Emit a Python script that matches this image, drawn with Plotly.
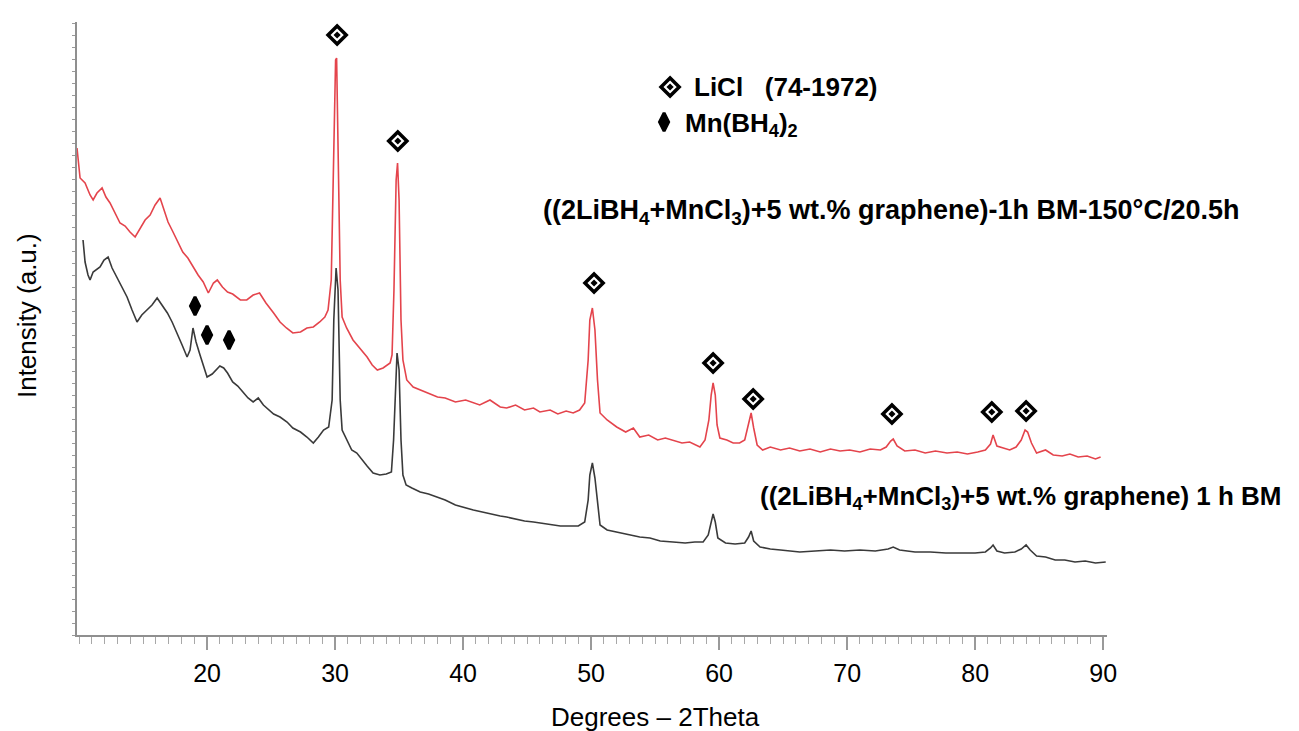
import plotly.graph_objects as go

# ---------------- data ----------------
# sample heat-treated 150 C / 20.5 h (red)
red_theta = [9.84, 10.08, 10.47, 10.86, 11.1, 11.4, 11.8, 12.1, 12.42, 12.8, 13.2, 13.6, 13.98, 14.38,
             14.77, 15.16, 15.55, 15.94, 16.33, 16.64, 16.95, 17.34, 17.73, 18.1, 18.5, 18.9, 19.3, 19.7,
             20.1, 20.5, 20.8, 21.2, 21.6, 22.0, 22.6, 23.1, 23.6, 24.1, 24.6, 25.2, 25.7, 26.2, 26.7,
             27.3, 27.8, 28.3, 28.8, 29.2, 29.45, 29.7, 29.85, 30.04, 30.12, 30.23, 30.4, 30.55, 30.9,
             31.4, 31.95, 32.5, 32.9, 33.3, 33.75, 34.3, 34.45, 34.6, 34.77, 34.88, 35.0, 35.15, 35.3,
             35.6, 36.1, 36.65, 37.3, 38.0, 38.6, 39.4, 40.2, 40.8, 41.3, 42.1, 42.9, 43.4, 44.1, 44.8,
             45.5, 46.0, 46.8, 47.4, 48.05, 48.6, 49.1, 49.5, 49.77, 49.9, 50.1, 50.3, 50.5, 50.7, 51.25,
             52.0, 52.7, 53.3, 53.8, 54.5, 55.2, 55.8, 56.4, 57.1, 57.7, 58.5, 58.9, 59.2, 59.38, 59.53,
             59.7, 59.84, 60.06, 60.6, 61.1, 61.6, 62.0, 62.27, 62.5, 62.7, 62.97, 63.4, 64.0, 64.8, 65.5,
             66.3, 67.1, 67.9, 68.7, 69.45, 70.2, 71.0, 71.8, 72.6, 73.05, 73.4, 73.6, 73.9, 74.5, 75.3,
             76.1, 76.9, 77.8, 78.6, 79.4, 80.2, 80.8, 81.2, 81.4, 81.7, 82.2, 82.7, 83.2, 83.6, 83.9,
             84.1, 84.4, 84.8, 85.5, 86.1, 86.8, 87.4, 88.05, 88.75, 89.4, 89.8]
red_intensity = [487, 457, 452, 440, 435, 442, 447, 438, 432, 423, 412, 409, 403, 398,
                 407, 415, 420, 430, 437, 425, 413, 403, 392, 383, 377, 368, 360, 353,
                 342, 352, 355, 348, 343, 341, 335, 335, 340, 342, 332, 322, 313, 307, 302,
                 303, 307, 308, 313, 318, 325, 355, 455, 575, 577, 485, 355, 318, 307,
                 295, 287, 278, 270, 265, 267, 272, 280, 345, 455, 472, 435, 315, 275,
                 255, 248, 245, 242, 238, 237, 233, 235, 232, 230, 235, 228, 227, 230, 225,
                 227, 223, 225, 221, 224, 222, 225, 232, 275, 315, 327, 305, 255, 222, 215,
                 208, 203, 207, 198, 200, 195, 197, 195, 192, 193, 188, 195, 215, 240, 252,
                 240, 210, 197, 195, 192, 192, 195, 210, 222, 207, 190, 185, 188, 185, 187,
                 184, 186, 183, 186, 184, 185, 183, 186, 185, 188, 194, 196, 189, 184, 185,
                 182, 184, 182, 183, 181, 183, 185, 191, 200, 189, 187, 185, 188, 195, 205,
                 203, 192, 182, 185, 180, 179, 181, 178, 179, 176, 178]

# sample as milled, 1 h BM (black)
blk_theta = [10.31, 10.47, 10.7, 10.86, 11.1, 11.33, 11.64, 11.95, 12.27, 12.58, 12.9, 13.2, 13.5,
             13.75, 14.14, 14.53, 14.9, 15.3, 15.7, 16.1, 16.5, 16.9, 17.27, 17.66, 18.05, 18.44,
             18.67, 18.9, 19.14, 19.45, 19.77, 20.0, 20.4, 20.7, 21.0, 21.3, 21.6, 22.0, 22.4, 22.8,
             23.2, 23.6, 24.0, 24.4, 24.8, 25.2, 25.7, 26.25, 26.7, 27.3, 27.8, 28.3, 28.7, 29.1,
             29.5, 29.77, 29.9, 30.08, 30.23, 30.4, 30.55, 30.9, 31.3, 31.7, 32.1, 32.5, 32.97, 33.5,
             34.0, 34.4, 34.57, 34.73, 34.84, 35.0, 35.15, 35.3, 35.55, 36.0, 36.65, 37.3, 38.0, 38.6,
             39.4, 40.2, 40.8, 41.5, 42.1, 42.9, 43.4, 44.1, 44.8, 45.5, 46.0, 46.8, 47.6, 48.4, 49.0,
             49.5, 49.77, 49.9, 50.1, 50.3, 50.5, 50.7, 51.25, 52.0, 52.8, 53.8, 54.6, 55.4, 56.4,
             57.35, 58.1, 58.75, 59.15, 59.38, 59.53, 59.7, 59.9, 60.5, 61.25, 62.0, 62.3, 62.5, 62.7,
             63.2, 64.0, 64.8, 65.5, 66.3, 67.5, 68.7, 69.8, 71.0, 72.2, 73.2, 73.6, 74.1, 75.3, 76.5,
             77.7, 78.8, 80.0, 80.8, 81.2, 81.4, 81.7, 82.3, 83.1, 83.6, 83.98, 84.3, 84.8, 85.5,
             86.25, 87.0, 87.8, 88.6, 89.4, 90.2]
blk_intensity = [395, 373, 360, 355, 363, 365, 368, 375, 378, 367, 359, 353, 345,
                 338, 325, 313, 320, 325, 330, 337, 330, 322, 313, 302, 290, 278,
                 285, 307, 293, 280, 267, 258, 261, 265, 269, 267, 262, 253, 249, 243,
                 237, 233, 237, 230, 225, 221, 218, 213, 207, 203, 198, 192, 198, 205,
                 208, 235, 315, 367, 345, 235, 205, 195, 185, 182, 175, 169, 162, 160,
                 161, 163, 195, 255, 282, 265, 195, 160, 150, 147, 143, 141, 138, 135,
                 130, 127, 125, 123, 121, 119, 118, 116, 114, 113, 112, 111, 109, 109, 109,
                 113, 135, 160, 172, 157, 130, 110, 105, 103, 101, 98, 97, 94, 93,
                 92, 93, 93, 100, 115, 121, 113, 97, 92, 91, 92, 98, 104, 94,
                 88, 86, 85, 84, 83, 84, 85, 84, 85, 84, 86, 88, 85, 83, 83,
                 82, 82, 82, 83, 87, 90, 84, 82, 83, 86, 90, 85, 79, 78,
                 75, 75, 73, 74, 72, 73]

# phase markers
licl_theta = [30.16, 34.9, 50.23, 59.53, 62.66, 73.5, 81.3, 83.98]
licl_mark_y = [600, 494, 352, 272, 236, 221, 223, 224]
mnbh_theta = [19.06, 20.0, 21.72]
mnbh_mark_y = [329, 300, 295]

x_ticks = [20, 30, 40, 50, 60, 70, 80, 90]
x_tick_text = [str(v) for v in x_ticks]

label_red = "((2LiBH<sub>4</sub>+MnCl<sub>3</sub>)+5 wt.% graphene)-1h BM-150°C/20.5h"
label_blk = "((2LiBH<sub>4</sub>+MnCl<sub>3</sub>)+5 wt.% graphene) 1 h BM"
legend_licl = "LiCl\u00a0\u00a0\u00a0(74-1972)"
legend_mn = "Mn(BH<sub>4</sub>)<sub>2</sub>"

# ---------------- figure ----------------
FONT = "Arial, Liberation Sans, sans-serif"
fig = go.Figure()

fig.add_trace(go.Scatter(x=red_theta, y=red_intensity, mode="lines",
                         line=dict(color="#e4444c", width=1.6), showlegend=False, hoverinfo="skip"))
fig.add_trace(go.Scatter(x=blk_theta, y=blk_intensity, mode="lines",
                         line=dict(color="#3a3a3a", width=1.6), showlegend=False, hoverinfo="skip"))

# LiCl markers: open diamond + small filled diamond (chart + legend key)
lx = licl_theta + [56.17]
ly = licl_mark_y + [548]
fig.add_trace(go.Scatter(x=lx, y=ly, mode="markers", cliponaxis=False, showlegend=False,
                         marker=dict(symbol="diamond-open", size=14, color="black",
                                     line=dict(width=3.5, color="black"))))
fig.add_trace(go.Scatter(x=lx, y=ly, mode="markers", cliponaxis=False, showlegend=False,
                         marker=dict(symbol="diamond", size=5.5, color="black", line=dict(width=0))))

# Mn(BH4)2 markers (chart + legend key)
mx = mnbh_theta + [55.7]
my = mnbh_mark_y + [513]
fig.add_trace(go.Scatter(x=mx, y=my, mode="markers", cliponaxis=False, showlegend=False,
                         marker=dict(symbol="diamond-tall", size=13, color="black",
                                     line=dict(width=3, color="black"))))

ann = []
ann.append(dict(x=57.89, y=548, text=legend_licl, xanchor="left", yanchor="middle",
                font=dict(family=FONT, size=26, color="black"), showarrow=False))
ann.append(dict(x=57.19, y=511, text=legend_mn, xanchor="left", yanchor="middle",
                font=dict(family=FONT, size=26, color="black"), showarrow=False))
ann.append(dict(x=46.1, y=423, text=label_red, xanchor="left", yanchor="middle",
                font=dict(family=FONT, size=27, color="black"), showarrow=False))
ann.append(dict(x=63.0, y=138, text=label_blk, xanchor="left", yanchor="middle",
                font=dict(family=FONT, size=26, color="black"), showarrow=False))
for a in ann:
    a["text"] = "<b>" + a["text"] + "</b>"
# axis titles placed in paper coordinates
ann.append(dict(xref="paper", yref="paper", x=0.562, y=-0.1338, text="Degrees – 2Theta",
                xanchor="center", yanchor="middle", showarrow=False,
                font=dict(family=FONT, size=26, color="black")))
ann.append(dict(xref="paper", yref="paper", x=-0.0485, y=0.5204, text="Intensity (a.u.)",
                textangle=-90, xanchor="center", yanchor="middle", showarrow=False,
                font=dict(family=FONT, size=26, color="black")))
fig.update_layout(annotations=ann)

fig.update_layout(
    width=1299, height=731,
    margin=dict(l=77, r=192, t=22, b=96),
    plot_bgcolor="white", paper_bgcolor="white",
    font=dict(family=FONT, color="black"),
    xaxis=dict(range=[9.84, 90.3], showgrid=False, zeroline=False,
               showline=True, linecolor="#8f8f8f", linewidth=2,
               tickmode="array", tickvals=x_ticks, ticktext=x_tick_text,
               ticks="outside", ticklen=13, tickwidth=1.5, tickcolor="#9a9a9a",
               tickfont=dict(size=25, family=FONT, color="black"), ticklabelstandoff=2,
               minor=dict(dtick=1, tick0=0, ticks="outside", ticklen=7, tickwidth=1.2,
                          tickcolor="#a8a8a8")),
    yaxis=dict(range=[0, 613], showgrid=False, zeroline=False,
               showline=True, linecolor="#8f8f8f", linewidth=2,
               ticks="outside", ticklen=3, tickwidth=1, tickcolor="#9a9a9a",
               dtick=12, showticklabels=False),
)

fig.write_html("out.html")
